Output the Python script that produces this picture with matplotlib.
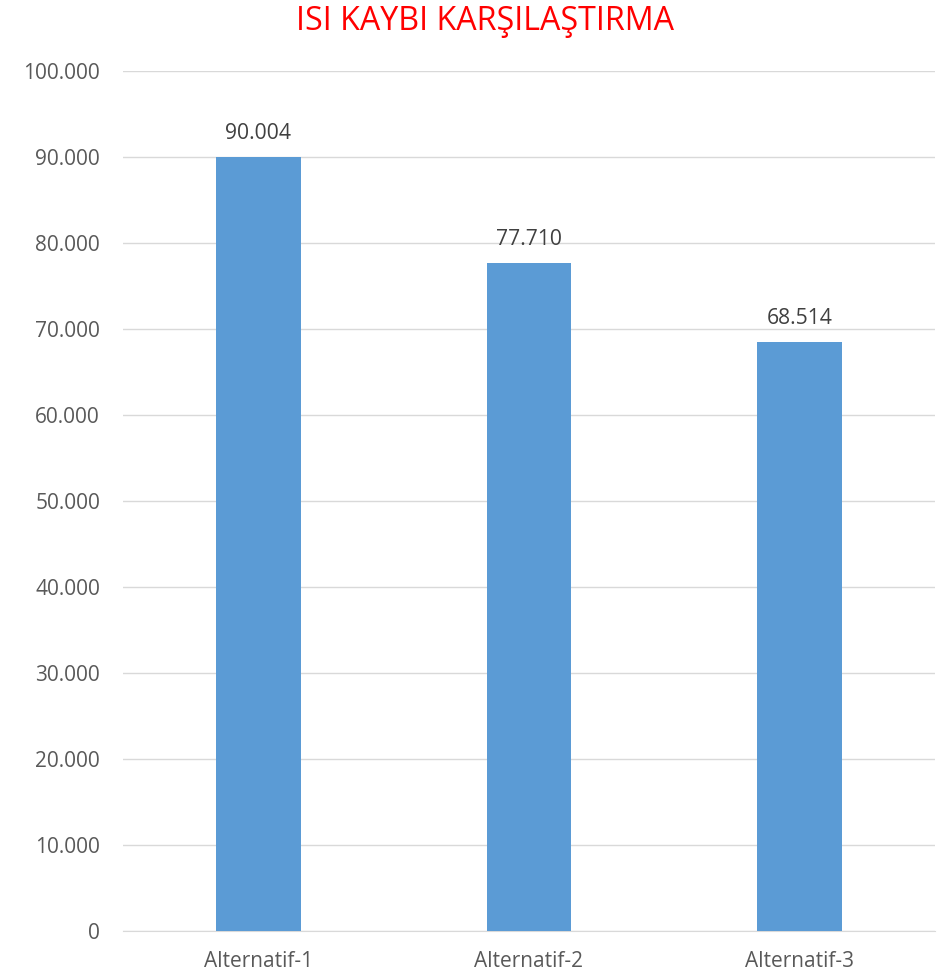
import matplotlib
matplotlib.use("Agg")
import matplotlib.pyplot as plt
from matplotlib.ticker import FuncFormatter

categories = ["Alternatif-1", "Alternatif-2", "Alternatif-3"]
values = [90004, 77710, 68514]
title = "ISI KAYBI KARŞILAŞTIRMA"

plt.rcParams['font.family'] = ['Open Sans', 'DejaVu Sans']

fig = plt.figure(figsize=(9.43, 9.76), dpi=100)
ax = fig.add_axes([123/943, 1-931/976, 812/943, 860/976])

x = list(range(len(categories)))
bars = ax.bar(x, values, width=0.314, color="#5B9BD5", zorder=3)

def fmt(v, pos=None):
    return f"{int(round(v)):,}".replace(",", ".")

for xi, v in zip(x, values):
    ax.text(xi, v + 1500, fmt(v), ha="center", va="bottom", fontsize=15.2, color="#404040")

ax.set_xlim(-0.5, 2.5)
ax.set_ylim(0, 100000)
ax.set_yticks(range(0, 100001, 10000))
ax.yaxis.set_major_formatter(FuncFormatter(fmt))
ax.set_xticks(x)
ax.set_xticklabels(categories)
ax.tick_params(axis="y", length=0, labelsize=15, labelcolor="#595959", pad=16.5)
ax.tick_params(axis="x", length=0, labelsize=15, labelcolor="#595959", pad=14.5)
ax.grid(axis="y", color="#D9D9D9", linewidth=1, zorder=0)
for s in ["top", "right", "left"]:
    ax.spines[s].set_visible(False)
ax.spines["bottom"].set_color("#D9D9D9")

fig.text(485/943, 1-21/976, title, ha="center", va="center", fontsize=23.2, color="#FF0000")

fig.savefig("out.png", dpi=100)
